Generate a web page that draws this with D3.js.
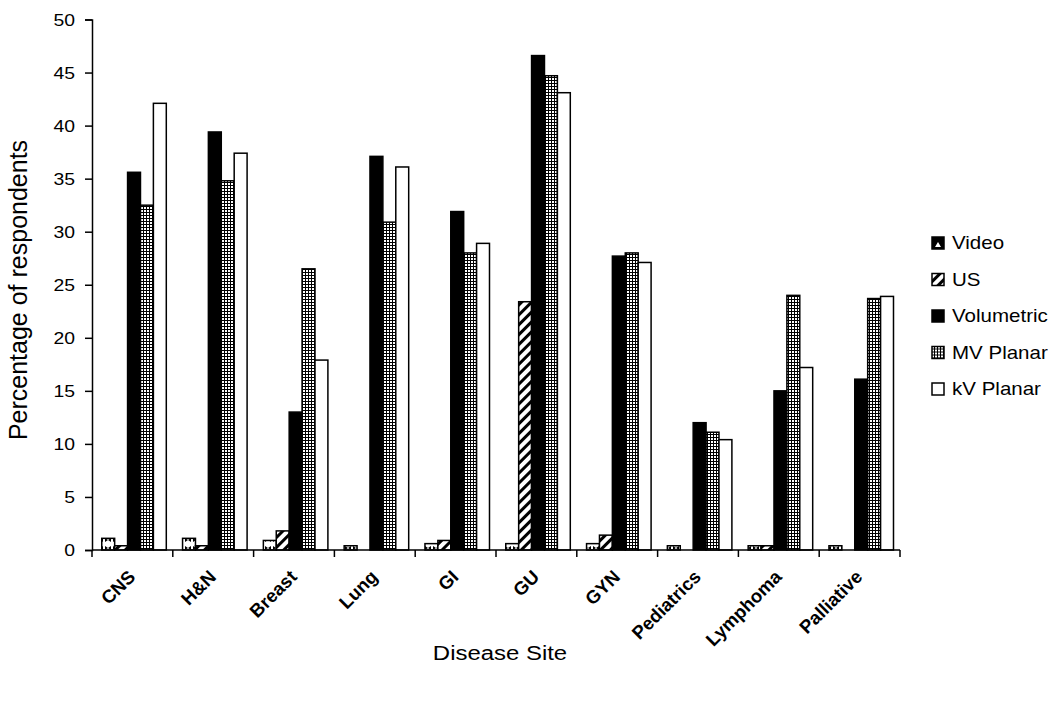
<!DOCTYPE html>
<html><head><meta charset="utf-8">
<script src="https://cdn.jsdelivr.net/npm/d3@7"></script>
<style>body{margin:0;background:#fff}svg{display:block}text{font-family:"Liberation Sans",Arial,sans-serif}</style>
</head><body><svg id="c" width="1050" height="701"></svg>
<script>
const categories = ["CNS","H&N","Breast","Lung","GI","GU","GYN","Pediatrics","Lymphoma","Palliative"];
const seriesNames = ["Video","US","Volumetric","MV Planar","kV Planar"];
const video      = [1.1, 1.1, 0.9, 0.4, 0.6, 0.6, 0.6, 0.4, 0.4, 0.4];
const us         = [0.4, 0.4, 1.8, 0,   0.9, 23.4, 1.4, 0,  0.4, 0];
const volumetric = [35.6, 39.4, 13.0, 37.1, 31.9, 46.6, 27.7, 12.0, 15.0, 16.1];
const mvPlanar   = [32.5, 34.8, 26.5, 30.9, 28.0, 44.7, 28.0, 11.1, 24.0, 23.7];
const kvPlanar   = [42.1, 37.4, 17.9, 36.1, 28.9, 43.1, 27.1, 10.4, 17.2, 23.9];
const yTicks = [0,5,10,15,20,25,30,35,40,45,50];
const seriesValues = [video, us, volumetric, mvPlanar, kvPlanar];

const svg = d3.select("#c");
const SX = 1.14; // horizontal text stretch seen in the reference
const m = {l:92, r:900, t:19.5, b:550};
const x = d3.scaleBand().domain(categories).range([m.l, m.r]).paddingInner(0).paddingOuter(0);
const xs = d3.scaleBand().domain(seriesNames).range([0, x.bandwidth()]).paddingOuter(0.63).paddingInner(0).align(0.6);
const y = d3.scaleLinear().domain([0,50]).range([m.b, m.t]);

const defs = svg.append("defs");
const pv = defs.append("pattern").attr("id","pVideo").attr("patternUnits","userSpaceOnUse").attr("width",8).attr("height",8);
pv.append("rect").attr("width",8).attr("height",8).attr("fill","#fff");
pv.append("path").attr("d","M1,2 L4,4 L1,6 Z M7,2 L4,4 L7,6 Z").attr("fill","#000");
const pu = defs.append("pattern").attr("id","pUS").attr("patternUnits","userSpaceOnUse").attr("width",7).attr("height",7).attr("patternTransform","rotate(45)");
pu.append("rect").attr("width",7).attr("height",7).attr("fill","#fff");
pu.append("rect").attr("width",3).attr("height",7).attr("fill","#000");
const pm = defs.append("pattern").attr("id","pMV").attr("patternUnits","userSpaceOnUse").attr("width",3).attr("height",3);
pm.append("rect").attr("width",3).attr("height",3).attr("fill","#000");
pm.append("rect").attr("width",2).attr("height",2).attr("fill","#fff");
const fills = ["url(#pVideo)","url(#pUS)","#000","url(#pMV)","#fff"];

// bars
seriesNames.forEach((s,si)=>{
  svg.append("g").selectAll("rect").data(categories).join("rect")
    .attr("x", c=>x(c)+xs(s))
    .attr("width", xs.bandwidth())
    .attr("y", (c,i)=>y(seriesValues[si][i]))
    .attr("height", (c,i)=>m.b - y(seriesValues[si][i]))
    .attr("fill", fills[si])
    .attr("stroke", "#000").attr("stroke-width", 1.5)
    .attr("display",(c,i)=>seriesValues[si][i]>0?null:"none");
});

// y axis
const ya = svg.append("g").attr("transform",`translate(${m.l},0)`)
  .call(d3.axisLeft(y).tickValues(yTicks).tickSize(7).tickFormat(""));
ya.select(".domain").attr("stroke","#000").attr("stroke-width",1.5);
ya.selectAll(".tick line").attr("stroke","#000").attr("stroke-width",1.5);
svg.append("g").selectAll("text").data(yTicks).join("text")
  .attr("transform", d=>`translate(75,${y(d)}) scale(${SX},1)`)
  .attr("text-anchor","end").attr("dy","0.36em").attr("font-size",17).attr("fill","#000").text(d=>d);

// x axis
const xa = svg.append("g").attr("transform",`translate(0,${m.b})`);
xa.append("line").attr("x1",m.l).attr("x2",m.r).attr("stroke","#000").attr("stroke-width",1.5);
const bounds = categories.map(c=>x(c)).concat([m.r]);
xa.selectAll("line.t").data(bounds).join("line").attr("class","t")
  .attr("x1",d=>d).attr("x2",d=>d).attr("y1",0).attr("y2",7).attr("stroke","#000").attr("stroke-width",1.5);
xa.selectAll("text").data(categories).join("text")
  .attr("transform", c=>`translate(${x(c)+x.bandwidth()/2+4},${28}) rotate(-45)`)
  .attr("text-anchor","end").attr("font-size",18.5).attr("font-weight","bold").attr("fill","#000")
  .text(c=>c);

// axis titles
svg.append("text").attr("transform",`translate(500,660) scale(${SX},1)`).attr("text-anchor","middle").attr("font-size",21).text("Disease Site");
svg.append("text").attr("transform","translate(27,290) rotate(-90)").attr("text-anchor","middle").attr("font-size",25).text("Percentage of respondents");

// legend
const lg = svg.append("g").selectAll("g").data(seriesNames).join("g")
  .attr("transform",(d,i)=>`translate(932,${243+i*36.5})`);
lg.append("rect").attr("x",0).attr("y",-6).attr("width",12).attr("height",12)
  .attr("fill",(d,i)=>i===0?"#000":fills[i]).attr("stroke","#000").attr("stroke-width",1.5);
lg.filter((d,i)=>i===0).append("path").attr("d","M3,4 L6,-1 L9,4 Z").attr("fill","#fff");
lg.append("text").attr("transform",`translate(20,0) scale(${SX},1)`).attr("dy","0.36em").attr("font-size",18).text(d=>d);
</script></body></html>
